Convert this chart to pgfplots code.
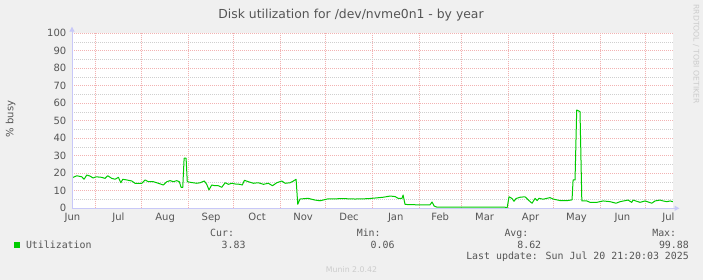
\documentclass[border=0pt]{standalone}
\usepackage{fontspec}
\setmainfont{DejaVu Sans}
\newfontfamily\monofont{DejaVu Sans Mono}
\usepackage{pgfplots}
\pgfplotsset{compat=1.18}
\usetikzlibrary{arrows.meta}
\definecolor{bgc}{HTML}{F0F0F0}
\definecolor{txt}{HTML}{555555}
\definecolor{gridred}{HTML}{F2B2B2}
\definecolor{gridgrey}{HTML}{CFCFCF}
\definecolor{axc}{HTML}{C8C8F8}
\definecolor{lineg}{HTML}{00CC00}
\definecolor{faint}{HTML}{CCCCCC}
\begin{document}
\begin{tikzpicture}
\fill[bgc] (0,0) rectangle (703bp,280bp);
\begin{axis}[
  at={(72bp,71.7bp)}, anchor=south west,
  scale only axis, width=601bp, height=175bp,
  xmin=-15.3, xmax=383.5, ymin=0, ymax=100,
  axis background/.style={fill=white},
  axis line style={draw=none},
  tick style={draw=none}, major tick length=0pt, minor tick length=0pt,
  xtick={0,31,62,92,123,153,184,215,243,274,304,335,365},
  xticklabels={},
  extra x ticks={-15,15.5,46.5,77,107.5,138,168.5,199.5,229,258.5,289,319.5,350,380.5},
  extra x tick labels={Jun,Jul,Aug,Sep,Oct,Nov,Dec,Jan,Feb,Mar,Apr,May,Jun,Jul},
  extra x tick style={grid=none},
  xticklabel style={anchor=base, inner sep=0pt, yshift=-12.7bp, font=\fontsize{10bp}{12bp}\selectfont, text=txt},
  ytick={0,10,20,30,40,50,60,70,80,90,100},
  yticklabels={0,10,20,30,40,50,60,70,80,90,100},
  minor ytick={5,15,25,35,45,55,65,75,85,95},
  yticklabel style={anchor=east, inner sep=0pt, xshift=-5.5bp, font=\fontsize{10bp}{12bp}\selectfont, text=txt},
  xmajorgrids, ymajorgrids, yminorgrids,
  major grid style={gridred, line width=0.7bp, dash pattern=on 1bp off 1bp},
  minor grid style={gridgrey, line width=0.7bp, dash pattern=on 1bp off 1bp},
]
\addplot[lineg, line width=1bp, line join=round] coordinates {
(-15.2,17.1) (-14.5,17.7) (-12.1,18.6) (-8.8,18.0) (-7.3,16.6) (-5.5,19.0) (-3.3,18.4) (-1.3,17.3) (0.7,18.0) (4.4,17.7) (6.6,17.1) (8.4,18.6) (11.1,17.1) (13.3,16.6) (15.5,17.7) (17.1,14.6) (18.4,16.6) (21.0,16.2) (24.4,15.6) (26.5,14.3) (31.0,14.3) (33.2,16.2) (35.4,15.2) (38.7,15.2) (42.0,14.3) (45.3,13.3) (47.6,15.2) (49.8,15.8) (52.0,15.2) (54.2,15.8) (55.9,15.2) (57.1,12.0) (58.2,12.0) (59.1,28.6) (60.4,28.6) (61.2,15.2) (64.2,14.7) (67.5,14.3) (69.7,14.6) (72.5,15.6) (74.1,13.7) (75.6,10.5) (77.4,13.3) (79.6,12.9) (81.8,12.9) (84.1,12.0) (86.3,14.6) (88.5,13.7) (90.7,14.3) (92.9,13.9) (96.2,13.7) (97.7,13.3) (99.1,16.0) (101.7,15.2) (105.0,14.3) (108.4,14.6) (111.7,13.7) (115.0,14.3) (117.7,12.9) (120.6,14.6) (123.9,15.6) (126.1,14.3) (129.4,14.6) (131.6,15.6) (133.4,16.6) (134.5,2.3) (136.0,5.3) (141.3,5.7) (146.0,4.7) (149.3,4.3) (154.6,5.4) (165.9,5.5) (172.5,5.3) (181.2,5.5) (191.1,6.3) (195.8,7.0) (199.1,6.7) (201.1,5.7) (203.7,5.7) (204.4,7.6) (205.7,2.2) (213.5,2.0) (222.3,2.0) (223.6,3.6) (225.0,1.3) (227.0,0.6) (272.1,0.6) (273.4,0.1) (274.7,6.6) (276.7,5.6) (278.0,4.0) (279.4,5.6) (282.0,6.3) (285.3,6.6) (288.7,3.8) (290.0,2.9) (292.0,5.7) (293.3,4.4) (294.6,5.7) (297.3,5.2) (301.9,6.1) (303.9,5.3) (308.6,4.4) (313.3,4.4) (316.5,4.8) (317.2,16.2) (318.5,16.2) (319.6,56.2) (321.8,55.2) (323.0,4.2) (326.3,4.2) (328.5,3.4) (333.0,3.4) (337.1,4.2) (341.7,3.8) (345.7,2.9) (348.4,3.8) (353.7,4.7) (356.1,3.4) (357.0,4.7) (361.6,3.4) (365.0,4.2) (369.4,2.9) (371.6,4.2) (374.9,4.7) (376.9,4.2) (379.4,3.8) (381.6,4.2) (383.4,3.8)
};
\end{axis}
\draw[axc, line width=1bp, -{Triangle[width=5bp,length=5bp]}] (71.5bp,71.7bp) -- (679.5bp,71.7bp);
\draw[axc, line width=1bp, -{Triangle[width=5bp,length=5bp]}] (72bp,71.2bp) -- (72bp,253.3bp);
\node[inner sep=0pt, anchor=base, text=txt, font=\fontsize{12.4bp}{14bp}\selectfont] at (351bp,261.7bp) {Disk utilization for /dev/nvme0n1 - by year};
\node[inner sep=0pt, rotate=90, text=txt, font=\fontsize{10bp}{12bp}\selectfont] at (10.5bp,161bp) {\% busy};
\node[inner sep=0pt, rotate=-90, text=faint, font=\fontsize{7.7bp}{9bp}\selectfont] at (696bp,226bp) {RRDTOOL / TOBI OETIKER};
\node[inner sep=0pt, anchor=base, text=faint, font=\fontsize{7.8bp}{9bp}\selectfont] at (351.5bp,7.6bp) {Munin 2.0.42};
\fill[lineg] (14bp,32.3bp) rectangle (20bp,38bp);
\begin{scope}[every node/.style={inner sep=0pt, text=txt, font=\monofont\fontsize{9.9bp}{12bp}\selectfont}]
\node[anchor=base west] at (25.8bp,31.7bp) {Utilization};
\node[anchor=base west] at (210bp,43.3bp) {Cur:};
\node[anchor=base east] at (245.7bp,31.7bp) {3.83};
\node[anchor=base west] at (356.6bp,43.3bp) {Min:};
\node[anchor=base east] at (394.7bp,31.7bp) {0.06};
\node[anchor=base west] at (504.3bp,43.3bp) {Avg:};
\node[anchor=base east] at (541.4bp,31.7bp) {8.62};
\node[anchor=base west] at (652.1bp,43.3bp) {Max:};
\node[anchor=base east] at (689bp,31.7bp) {99.88};
\node[anchor=base east] at (689bp,20.7bp) {Last update: Sun Jul 20 21:20:03 2025};
\end{scope}
\pgfresetboundingbox
\useasboundingbox (0,0) rectangle (703bp,280bp);
\end{tikzpicture}
\end{document}
